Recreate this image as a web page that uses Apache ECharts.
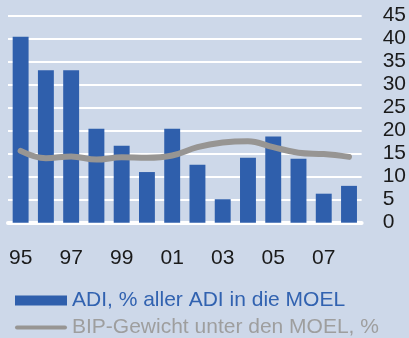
<!DOCTYPE html>
<html>
<head>
<meta charset="utf-8">
<script src="https://cdn.jsdelivr.net/npm/echarts@6/dist/echarts.min.js"></script>
<style>
  html, body { margin: 0; padding: 0; background: #cdd8e9; }
  #chart { width: 409px; height: 338px; }
</style>
</head>
<body>
<div id="chart"></div>
<script>
// Years 1995–2008, two-digit labels
const years = ['95', '96', '97', '98', '99', '00', '01', '02', '03', '04', '05', '06', '07', '08'];
// FDI share going to CEE countries, % of all FDI
const adiShare = [40.4, 33.1, 33.1, 20.4, 16.7, 11.0, 20.4, 12.6, 5.1, 14.1, 18.7, 13.9, 6.3, 8.0];
// GDP weight among CEE countries, %
const bipWeight = [15.6, 14.0, 14.4, 13.7, 14.2, 14.1, 14.6, 16.4, 17.4, 17.7, 16.4, 15.2, 14.9, 14.3];
// Value axis ticks
const yTicks = { min: 0, max: 45, interval: 5 };

const nameAdi = 'ADI, % aller ADI in die MOEL';
const nameBip = 'BIP-Gewicht unter den MOEL, %';
const font = 'Liberation Sans, Arial, sans-serif';

const chart = echarts.init(document.getElementById('chart'), null, { renderer: 'canvas' });
chart.setOption({
  backgroundColor: '#cdd8e9',
  animation: false,
  grid: { left: 8, right: 47, top: 15.5, bottom: 115.3, containLabel: false },
  xAxis: {
    type: 'category',
    data: years,
    boundaryGap: true,
    axisLine: { show: true, lineStyle: { color: '#ffffff', width: 4 } },
    axisTick: { show: false },
    axisLabel: {
      interval: 1,
      margin: 25,
      color: '#1a1a1a',
      fontFamily: font,
      fontSize: 21
    }
  },
  yAxis: {
    type: 'value',
    position: 'right',
    min: yTicks.min,
    max: yTicks.max,
    interval: yTicks.interval,
    axisLine: { show: false },
    axisTick: { show: false },
    splitLine: { show: true, lineStyle: { color: '#ffffff', width: 2 } },
    axisLabel: {
      margin: 21,
      align: 'left',
      color: '#1a1a1a',
      fontFamily: font,
      fontSize: 21
    }
  },
  legend: {
    orient: 'vertical',
    left: 15,
    top: 290,
    itemWidth: 52,
    itemHeight: 10,
    itemGap: 6,
    padding: 0,
    symbolKeepAspect: true,
    textStyle: { fontFamily: font, fontSize: 21 },
    data: [
      { name: nameAdi, icon: 'rect', textStyle: { color: '#3162b0' } },
      { name: nameBip, icon: 'path://M2,0 H50 A2,2 0 0 1 50,4 H2 A2,2 0 0 1 2,0 Z', textStyle: { color: '#9e9e9e' } }
    ]
  },
  series: [
    {
      name: nameAdi,
      type: 'bar',
      data: adiShare,
      barCategoryGap: '37%',
      itemStyle: { color: '#2f5fac' },
      z: 2
    },
    {
      name: nameBip,
      type: 'line',
      data: bipWeight,
      smooth: 0.4,
      symbol: 'none',
      lineStyle: { color: '#979593', width: 6, cap: 'round' },
      itemStyle: { color: '#979593' },
      z: 3
    }
  ]
});
</script>
</body>
</html>
